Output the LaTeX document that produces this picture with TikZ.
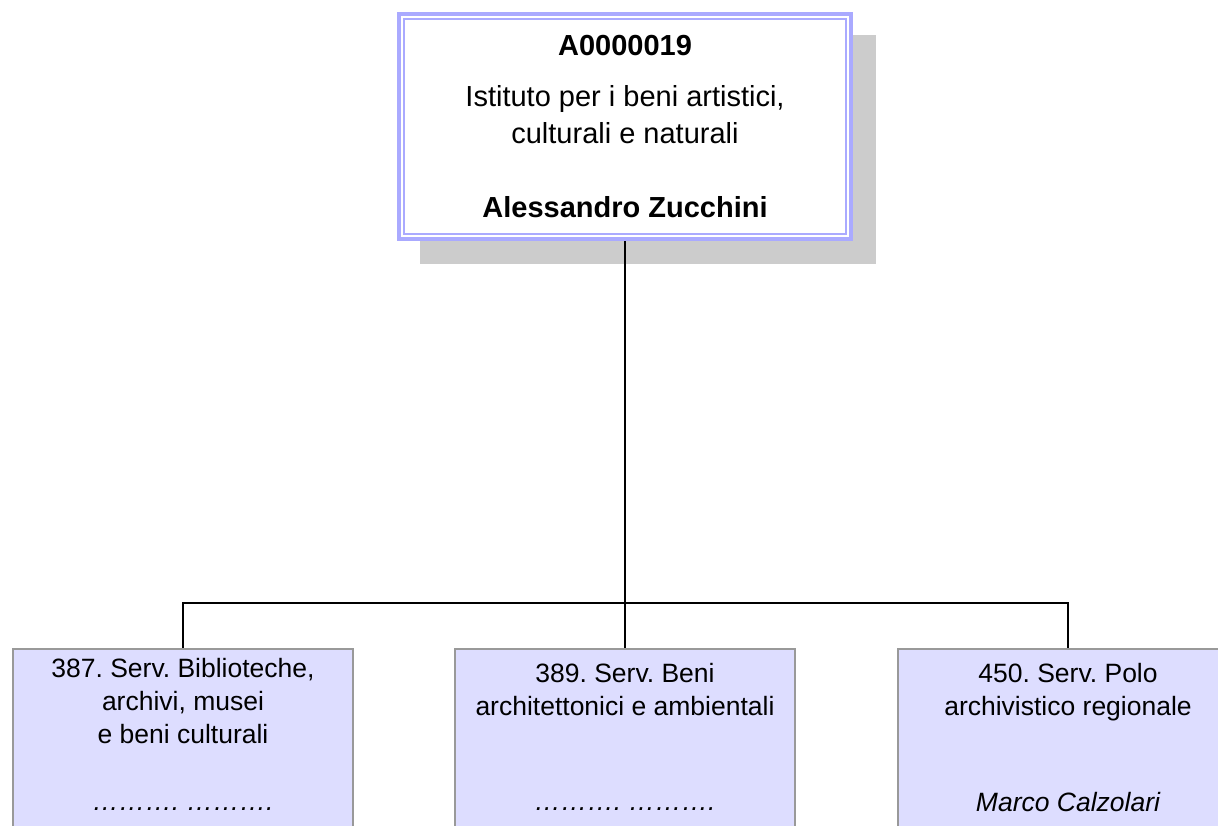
\documentclass[tikz,border=0pt]{standalone}
\usepackage{fontspec}
\setmainfont{Liberation Sans}
\frenchspacing
\usetikzlibrary{positioning, shadows}
\definecolor{bordblue}{RGB}{170,170,255}
\definecolor{shadowgray}{RGB}{204,204,204}
\definecolor{unitfill}{RGB}{221,221,255}
\definecolor{unitdraw}{RGB}{153,153,153}
\tikzstyle{head}=[rectangle, draw=bordblue, line width=2pt, fill=white, minimum width=226pt, minimum height=112.5pt, inner sep=0pt, align=center, font=\fontsize{14.5}{18.5}\selectfont, drop shadow={shadow xshift=11.5pt, shadow yshift=-11.5pt, fill=shadowgray, draw=shadowgray, opacity=1}]
\tikzstyle{unit}=[rectangle, draw=unitdraw, line width=0.75pt, fill=unitfill, minimum width=170pt, minimum height=100pt]
\tikzstyle{unittext}=[inner sep=0pt, align=center, font=\fontsize{13.25}{16.5}\selectfont]
\tikzstyle{unitname}=[inner sep=0pt, text height=9.7pt, text depth=2.7pt, font=\fontsize{13.25}{16.5}\selectfont\itshape]
\tikzstyle{link}=[draw=black, line width=1pt]

\begin{document}
\begin{tikzpicture}[x=0.5pt, y=-0.5pt]
  \clip (0,0) rectangle (1218,825);
  \node[head] (dir) at (625,126.5) {\textbf{A0000019}\\[7pt] Istituto per i beni artistici,\\ culturali e naturali\\[18.5pt] \textbf{Alessandro Zucchini}};
  \draw[bordblue, line width=1pt] ([shift={(3.5pt,-3.5pt)}]dir.north west) rectangle ([shift={(-3.5pt,3.5pt)}]dir.south east);

  \coordinate (bus) at (625,603);
  \node[unit] (s387) at (183,749) {};
  \node[unit] (s389) at (625,749) {};
  \node[unit] (s450) at (1068,749) {};

  \node[unittext, below=5pt of s387.north] (t387) {387. Serv. Biblioteche,\\archivi, musei\\e beni culturali};
  \node[unittext, below=7.5pt of s389.north] (t389) {389. Serv. Beni\\architettonici e ambientali};
  \node[unittext, below=7.5pt of s450.north] (t450) {450. Serv. Polo\\archivistico regionale};
  \node[unitname, below=71pt of s387.north] (n387) {………. ……….};
  \node[unitname, below=71pt of s389.north] (n389) {………. ……….};
  \node[unitname, below=71.5pt of s450.north] (n450) {Marco Calzolari};

  \draw[link] (dir.south) -- (bus);
  \draw[link] (bus) -| (s387.north);
  \draw[link] (bus) -| (s450.north);
  \draw[link] (bus) -- (s389.north);
\end{tikzpicture}
\end{document}
